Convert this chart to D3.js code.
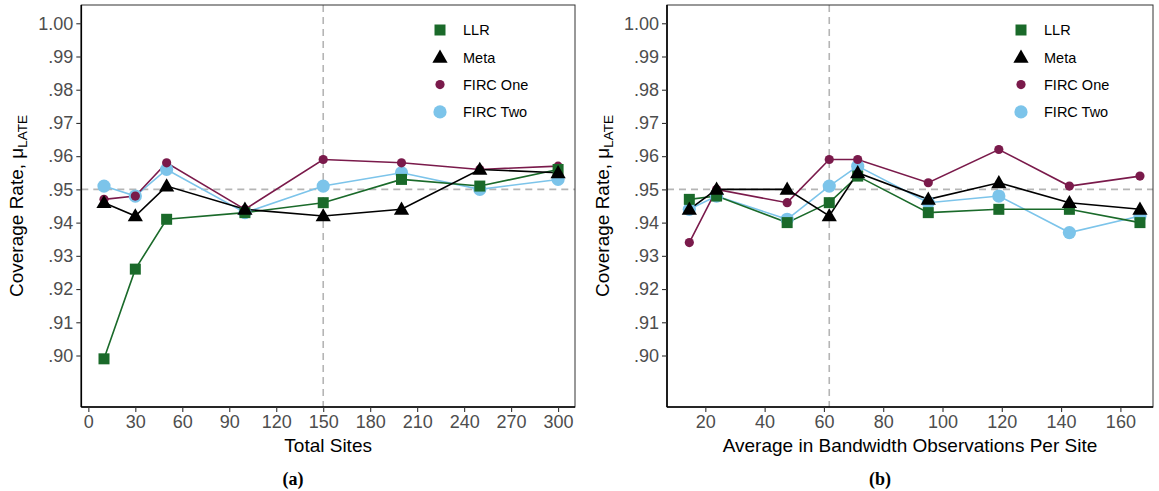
<!DOCTYPE html>
<html>
<head>
<meta charset="utf-8">
<script src="https://cdn.jsdelivr.net/npm/d3@7"></script>
<style>
  html, body { margin: 0; padding: 0; background: #fff; }
  svg text { font-family: "Liberation Sans", Arial, sans-serif; }
</style>
</head>
<body>
<svg id="chart" width="1159" height="491"></svg>
<script>
// ---- data ----
const seriesNames = ["LLR", "Meta", "FIRC One", "FIRC Two"];

// Panel (a): coverage by number of sites
const sitesX        = [10, 30, 50, 100, 150, 200, 250, 300];
const sitesLLR      = [0.899, 0.926, 0.941, 0.943, 0.946, 0.953, 0.951, 0.956];
const sitesMeta     = [0.946, 0.942, 0.951, 0.944, 0.942, 0.944, 0.956, 0.955];
const sitesFircOne  = [0.947, 0.948, 0.958, 0.944, 0.959, 0.958, 0.956, 0.957];
const sitesFircTwo  = [0.951, 0.948, 0.956, 0.943, 0.951, 0.955, 0.950, 0.953];
const sitesRefX     = 150;

// Panel (b): coverage by average in-bandwidth observations per site
const bwX           = [14.6, 23.8, 47.6, 61.8, 71.4, 95.2, 119, 142.8, 166.6];
const bwLLR         = [0.947, 0.948, 0.940, 0.946, 0.954, 0.943, 0.944, 0.944, 0.940];
const bwMeta        = [0.944, 0.950, 0.950, 0.942, 0.955, 0.947, 0.952, 0.946, 0.944];
const bwFircOne     = [0.934, 0.950, 0.946, 0.959, 0.959, 0.952, 0.962, 0.951, 0.954];
const bwFircTwo     = [0.944, 0.948, 0.941, 0.951, 0.957, 0.946, 0.948, 0.937, 0.942];
const bwRefX        = 61.8;

const yTicks  = [0.90, 0.91, 0.92, 0.93, 0.94, 0.95, 0.96, 0.97, 0.98, 0.99, 1.00];
const xTicksA = [0, 30, 60, 90, 120, 150, 180, 210, 240, 270, 300];
const xTicksB = [20, 40, 60, 80, 100, 120, 140, 160];
const targetCoverage = 0.95;

// ---- styling ----
const colors = { "LLR": "#1a6a2a", "Meta": "#000000", "FIRC One": "#7a1a4b", "FIRC Two": "#7cc4ea" };
const symbols = {
  "LLR":      { type: d3.symbolSquare,   size: 121 },
  "Meta":     { type: d3.symbolTriangle, size: 100 },
  "FIRC One": { type: d3.symbolCircle,   size: Math.PI * 4.6 * 4.6 },
  "FIRC Two": { type: d3.symbolCircle,   size: Math.PI * 6.6 * 6.6 }
};
const drawOrder = ["FIRC Two", "FIRC One", "LLR", "Meta"];

const svg = d3.select("#chart");
const plotTop = 5, plotBottom = 407;
const yScale = d3.scaleLinear().domain([0.8845, 1.0055]).range([plotBottom, plotTop]);
const fmtY = v => v >= 1 ? "1.00" : d3.format(".2f")(v).replace(/^0/, "");

function drawPanel(opts) {
  const x = d3.scaleLinear().domain(opts.xDomain).range([opts.left, opts.right]);
  const g = svg.append("g");

  // reference lines
  g.append("line")
    .attr("x1", opts.left).attr("x2", opts.right)
    .attr("y1", yScale(targetCoverage)).attr("y2", yScale(targetCoverage))
    .attr("stroke", "#b5b5b5").attr("stroke-width", 1.6).attr("stroke-dasharray", "7,5");
  g.append("line")
    .attr("x1", x(opts.refX)).attr("x2", x(opts.refX))
    .attr("y1", plotTop).attr("y2", plotBottom)
    .attr("stroke", "#b5b5b5").attr("stroke-width", 1.6).attr("stroke-dasharray", "7,5");

  // series lines then markers
  const line = d3.line().x(d => x(d[0])).y(d => yScale(d[1]));
  drawOrder.forEach(name => {
    const pts = opts.xs.map((v, i) => [v, opts.series[name][i]]);
    g.append("path").datum(pts)
      .attr("d", line).attr("fill", "none")
      .attr("stroke", colors[name]).attr("stroke-width", 1.6);
  });
  drawOrder.forEach(name => {
    const pts = opts.xs.map((v, i) => [v, opts.series[name][i]]);
    const sym = d3.symbol().type(symbols[name].type).size(symbols[name].size);
    g.selectAll(null).data(pts).enter().append("path")
      .attr("d", sym)
      .attr("transform", d => `translate(${x(d[0])},${yScale(d[1]) + (name === "Meta" ? 1 : 0)})`)
      .attr("fill", colors[name]);
  });

  // panel border
  g.append("rect")
    .attr("x", opts.left).attr("y", plotTop)
    .attr("width", opts.right - opts.left).attr("height", plotBottom - plotTop)
    .attr("fill", "none").attr("stroke", "#333").attr("stroke-width", 1);

  // axes
  const yAxis = d3.axisLeft(yScale).tickValues(yTicks).tickFormat(fmtY).tickSize(5).tickPadding(3);
  const ya = g.append("g").attr("transform", `translate(${opts.left},0)`).call(yAxis);
  const xAxis = d3.axisBottom(x).tickValues(opts.xTicks).tickSize(5).tickPadding(3);
  const xa = g.append("g").attr("transform", `translate(0,${plotBottom})`).call(xAxis);
  [ya, xa].forEach(a => {
    a.select(".domain").attr("stroke", "#000").attr("stroke-width", 1.6);
    a.selectAll(".tick line").attr("stroke", "#333").attr("stroke-width", 1.1);
    a.selectAll(".tick text").attr("fill", "#4d4d4d").style("font-size", "18px");
  });
  ya.select(".domain").attr("d", `M0,${plotTop}V${plotBottom}`);
  xa.select(".domain").attr("d", `M${opts.left},0H${opts.right}`);

  // axis titles
  const midY = (plotTop + plotBottom) / 2;
  const yt = g.append("text")
    .attr("transform", `translate(${opts.left - 58},${midY}) rotate(-90)`)
    .attr("text-anchor", "middle").attr("fill", "#000").style("font-size", "19px");
  yt.append("tspan").text("Coverage Rate, μ");
  yt.append("tspan").attr("dy", 4).style("font-size", "13.5px").text("LATE");

  g.append("text")
    .attr("x", (opts.left + opts.right) / 2).attr("y", 452)
    .attr("text-anchor", "middle").attr("fill", "#000").style("font-size", "19px")
    .text(opts.xTitle);

  g.append("text")
    .attr("x", opts.capX).attr("y", 485)
    .attr("text-anchor", "middle").attr("fill", "#000")
    .style("font-family", "'Liberation Serif', 'DejaVu Serif', serif")
    .style("font-weight", "bold").style("font-size", "18px")
    .text(opts.caption);

  // legend
  const leg = g.append("g");
  seriesNames.forEach((name, i) => {
    const ly = 30 + i * 27.3;
    const sym = d3.symbol().type(symbols[name].type).size(symbols[name].size);
    leg.append("path").attr("d", sym)
      .attr("transform", `translate(${opts.legendX},${ly + (name === "Meta" ? 1 : 0)})`)
      .attr("fill", colors[name]);
    leg.append("text")
      .attr("x", opts.legendX + 23).attr("y", ly).attr("dy", "0.36em")
      .attr("fill", "#000").style("font-size", "14.5px")
      .text(name);
  });
}

drawPanel({
  left: 81.3, right: 575, xDomain: [-4.5, 310.8],
  xs: sitesX, refX: sitesRefX, xTicks: xTicksA,
  series: { "LLR": sitesLLR, "Meta": sitesMeta, "FIRC One": sitesFircOne, "FIRC Two": sitesFircTwo },
  xTitle: "Total Sites", caption: "(a)", capX: 293, legendX: 440
});

drawPanel({
  left: 667, right: 1153, xDomain: [7.07, 171],
  xs: bwX, refX: bwRefX, xTicks: xTicksB,
  series: { "LLR": bwLLR, "Meta": bwMeta, "FIRC One": bwFircOne, "FIRC Two": bwFircTwo },
  xTitle: "Average in Bandwidth Observations Per Site", caption: "(b)", capX: 880, legendX: 1021
});
</script>
</body>
</html>
